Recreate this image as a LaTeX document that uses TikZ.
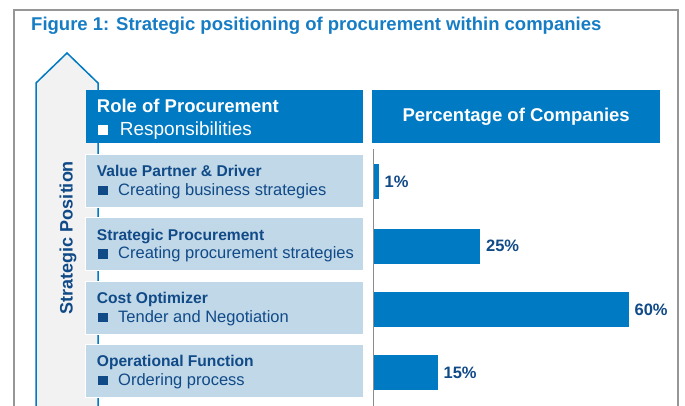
\documentclass[tikz,border=0pt]{standalone}
\usepackage{fontspec}
\setmainfont{Liberation Sans}
\definecolor{hblue}{RGB}{0,122,194}
\definecolor{rowblue}{RGB}{193,216,232}
\definecolor{dblue}{RGB}{16,74,135}
\definecolor{tblue}{RGB}{22,125,197}
\definecolor{arrowfill}{RGB}{242,242,242}
\definecolor{framegray}{RGB}{150,150,150}
\definecolor{axisgray}{RGB}{140,140,140}
\newcommand\rowbul{\textcolor{dblue}{\rule{9.5pt}{9.5pt}}}
\newcommand\hdrbul{\textcolor{white}{\rule{10.3pt}{10.3pt}}}
\begin{document}
\begin{tikzpicture}[x=1pt,y=-1pt,
  hdrbox/.style={fill=hblue, draw=none, inner sep=0, minimum height=53, anchor=north west},
  rowbox/.style={fill=rowblue, draw=white, line width=0.8, inner sep=0, minimum width=278, minimum height=53, anchor=north west},
  rowtitle/.style={anchor=base west, inner sep=0, text=dblue, font=\bfseries\fontsize{15.6}{19}\selectfont},
  rowresp/.style={anchor=base west, inner sep=0, text=dblue, font=\fontsize{16.5}{19}\selectfont},
  bar/.style={fill=hblue, draw=none, inner sep=0, minimum height=35, anchor=west},
  pct/.style={anchor=west, inner sep=0, text=dblue, font=\bfseries\fontsize{16.5}{19}\selectfont, xshift=5.5}]
\useasboundingbox (0,0) rectangle (685,405);
\clip (0,0) rectangle (685,405);
\fill[white] (0,0) rectangle (685,405);
% frame
\draw[framegray, line width=1.5] (14,420) |- (678,10) -- (678,420);
% title
\node[anchor=base west, inner sep=0, text=tblue, font=\bfseries\fontsize{18.5}{22}\selectfont] (title) at (31,30) {Figure 1: Strategic positioning of procurement within companies};
% arrow
\draw[hblue, fill=arrowfill, line width=1.5] (36,420) -- (36,83) -- (67,53) -- (98,83) -- (98,420);
\node[rotate=90, anchor=base, inner sep=0, text=dblue, font=\bfseries\fontsize{18}{22}\selectfont] (strat) at (72.5,237.5) {Strategic Position};
% headers
\node[hdrbox, minimum width=277] (hrole) at (85.5,90) {};
\node[anchor=base west, inner sep=0, text=white, font=\bfseries\fontsize{18.5}{22}\selectfont] (hrolet) at ([shift={(11.2,22.7)}]hrole.north west) {Role of Procurement};
\node[anchor=base west, inner sep=0, text=white, font=\fontsize{19}{22}\selectfont] (hroles) at ([shift={(12.2,45)}]hrole.north west) {\hdrbul\hspace{11.7pt}Responsibilities};
\node[hdrbox, minimum width=288] (hpct) at (372,90) {};
\node[text=white, inner sep=0, font=\bfseries\fontsize{18.5}{22}\selectfont] (hpctt) at (hpct.center) {Percentage of Companies};
% axis
\draw[axisgray, line width=1] (373,149) -- (373,420);
% rows
\node[rowbox] (r1) at (85,154) {};
\node[rowbox] (r2) at (85,217.3) {};
\node[rowbox] (r3) at (85,280.7) {};
\node[rowbox] (r4) at (85,344) {};
\node[rowtitle] (r1t) at ([shift={(11.7,22.7)}]r1.north west) {Value Partner \& Driver};
\node[rowresp] (r1s) at ([shift={(13,41.3)}]r1.north west) {\rowbul\hspace{10.5pt}Creating business strategies};
\node[rowtitle] (r2t) at ([shift={(11.7,22.7)}]r2.north west) {Strategic Procurement};
\node[rowresp] (r2s) at ([shift={(13,41.3)}]r2.north west) {\rowbul\hspace{10.5pt}Creating procurement strategies};
\node[rowtitle] (r3t) at ([shift={(11.7,22.7)}]r3.north west) {Cost Optimizer};
\node[rowresp] (r3s) at ([shift={(13,41.3)}]r3.north west) {\rowbul\hspace{10.5pt}Tender and Negotiation};
\node[rowtitle] (r4t) at ([shift={(11.7,22.7)}]r4.north west) {Operational Function};
\node[rowresp] (r4s) at ([shift={(13,41.3)}]r4.north west) {\rowbul\hspace{10.5pt}Ordering process};
% bars
\node[bar, minimum width=5] (b1) at (373.5,181.5) {};
\node[bar, minimum width=106.5] (b2) at (373.5,246) {};
\node[bar, minimum width=255] (b3) at (373.5,309.5) {};
\node[bar, minimum width=64] (b4) at (373.5,372.5) {};
\node[pct] (p1) at (b1.east) {1\%};
\node[pct] (p2) at (b2.east) {25\%};
\node[pct] (p3) at (b3.east) {60\%};
\node[pct] (p4) at (b4.east) {15\%};
\end{tikzpicture}
\end{document}
